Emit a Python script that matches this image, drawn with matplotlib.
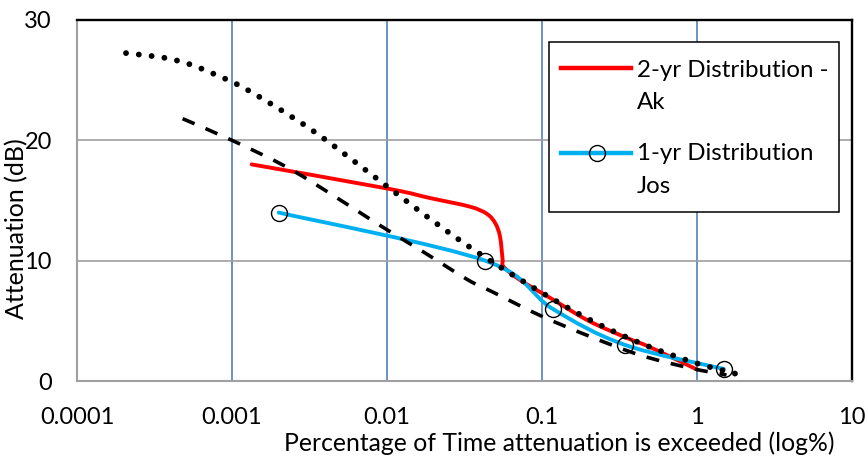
import matplotlib as mpl
import matplotlib.pyplot as plt
from matplotlib.path import Path
from matplotlib.patches import PathPatch, Rectangle
from matplotlib.lines import Line2D
import numpy as np

mpl.rcParams['font.family'] = ['Lato', 'DejaVu Sans']
mpl.rcParams['font.size'] = 17

# 2-yr distribution, Ak
ak_pct = [0.00134, 0.01, 0.019, 0.034, 0.044, 0.050, 0.0536, 0.0557, 0.0565,
          0.072, 0.113, 0.2, 0.35, 0.5, 1.0]
ak_db = [18.0, 16.0, 15.2, 14.5, 13.9, 13.1, 12.0, 10.1, 9.5,
         8.4, 6.9, 5.0, 3.6, 2.8, 0.95]

# 1-yr distribution, Jos
jos_pct = [0.002, 0.043, 0.117, 0.343, 1.49]
jos_db = [14.0, 10.0, 6.0, 3.0, 1.0]

# dotted curve
dot_pct = [0.000207, 0.00037, 0.00054, 0.00077, 0.0011, 0.0018, 0.0035, 0.0076,
           0.0163, 0.031, 0.058, 0.114, 0.225, 0.46, 0.95, 1.67, 2.0]
dot_db = [27.25, 26.85, 26.3, 25.5, 24.6, 23.0, 20.6, 17.35,
          14.1, 11.5, 9.2, 6.9, 4.8, 3.0, 1.55, 0.7, 0.4]

# dashed curve
dash_pct = [0.00048, 0.001, 0.0022, 0.0044, 0.0087, 0.0173, 0.0333, 0.048,
            0.097, 0.204, 0.43, 0.9, 1.55]
dash_db = [21.8, 20.0, 17.85, 15.5, 13.05, 10.7, 8.4, 7.4,
           5.45, 3.7, 2.15, 1.08, 0.5]

xticks = [0.0001, 0.001, 0.01, 0.1, 1, 10]
xticklabels = ['0.0001', '0.001', '0.01', '0.1', '1', '10']
yticks = [0, 10, 20, 30]


def smooth_path(xs, ys):
    # smoothed line: cubic bezier through each point, tangents taken in log-x space
    lx = np.log10(xs)
    y = np.asarray(ys, dtype=float)
    n = len(lx)
    verts = [(lx[0], y[0])]
    codes = [Path.MOVETO]
    for i in range(n - 1):
        a = max(i - 1, 0)
        b = min(i + 2, n - 1)
        c1 = (lx[i] + (lx[i + 1] - lx[a]) / 6, y[i] + (y[i + 1] - y[a]) / 6)
        c2 = (lx[i + 1] - (lx[b] - lx[i]) / 6, y[i + 1] - (y[b] - y[i]) / 6)
        verts += [c1, c2, (lx[i + 1], y[i + 1])]
        codes += [Path.CURVE4] * 3
    return Path([(10 ** vx, vy) for vx, vy in verts], codes)


fig = plt.figure(figsize=(8.68, 4.66), dpi=100)
ax = fig.add_axes([77 / 868, 1 - 381 / 466, 775 / 868, 361 / 466])
ax.set_xscale('log')
ax.set_xlim(0.0001, 10)
ax.set_ylim(0, 30)

ax.add_patch(PathPatch(smooth_path(ak_pct, ak_db), fill=False, edgecolor='#FF0000',
                       linewidth=2.8, capstyle='round', joinstyle='round', zorder=3))
ax.add_patch(PathPatch(smooth_path(jos_pct, jos_db), fill=False, edgecolor='#00B0F0',
                       linewidth=2.8, capstyle='round', joinstyle='round', zorder=4))
ax.plot(jos_pct, jos_db, linestyle='none', marker='o', markersize=11.5,
        markerfacecolor='none', markeredgecolor='black', markeredgewidth=1.0, zorder=5)
ax.add_patch(PathPatch(smooth_path(dash_pct, dash_db), fill=False, edgecolor='black',
                       linewidth=2.6, linestyle=(0, (3.6, 3.3)), capstyle='butt', zorder=6))
ax.add_patch(PathPatch(smooth_path(dot_pct, dot_db), fill=False, edgecolor='black',
                       linewidth=4.2, linestyle=(0, (0.01, 2.2)), capstyle='round', zorder=7))

# grid: blue verticals, grey horizontals
ax.minorticks_off()
ax.set_xticks(xticks)
ax.set_xticklabels(xticklabels)
ax.set_yticks(yticks)
ax.xaxis.grid(True, color='#4F81BD', linewidth=1.2)
ax.yaxis.grid(True, color='#A0A0A0', linewidth=1.2)
ax.set_axisbelow(True)
ax.tick_params(axis='both', length=0, labelsize=17)
ax.tick_params(axis='x', pad=19)
ax.tick_params(axis='y', pad=18)

for side in ['left', 'bottom']:
    ax.spines[side].set_color('#A0A0A0')
    ax.spines[side].set_linewidth(1.5)
for side in ['top', 'right']:
    ax.spines[side].set_color('black')
    ax.spines[side].set_linewidth(1.7)

ax.set_xlabel('Percentage of Time attenuation is exceeded (log%)', fontsize=17.8)
ax.xaxis.label.set_va('center')
ax.xaxis.set_label_coords(0.622, -0.172)
ax.set_ylabel('Attenuation (dB)', fontsize=18)
ax.yaxis.label.set_va('center')
ax.yaxis.set_label_coords(-0.0774, 0.421)

# legend box
tr = ax.transAxes
ax.add_patch(Rectangle((0.609, 0.468), 0.374, 0.471, transform=tr, facecolor='white',
                       edgecolor='black', linewidth=1.1, zorder=10))
ax.add_line(Line2D([0.6245, 0.7148], [0.866, 0.866], transform=tr, color='#FF0000',
                   linewidth=3.2, zorder=11))
ax.add_line(Line2D([0.6245, 0.7148], [0.632, 0.632], transform=tr, color='#00B0F0',
                   linewidth=3.2, zorder=11))
ax.add_line(Line2D([0.6706], [0.632], transform=tr, linestyle='none', marker='o',
                   markersize=11.5, markerfacecolor='none', markeredgecolor='black',
                   markeredgewidth=1.0, zorder=12))
ax.text(0.7226, 0.7526, '2-yr Distribution -\nAk', transform=tr, ha='left',
        va='baseline', linespacing=1.68, fontsize=17.3, zorder=12)
ax.text(0.7226, 0.5208, '1-yr Distribution\nJos', transform=tr, ha='left',
        va='baseline', linespacing=1.68, fontsize=17.3, zorder=12)

fig.savefig('out.png', dpi=100)
